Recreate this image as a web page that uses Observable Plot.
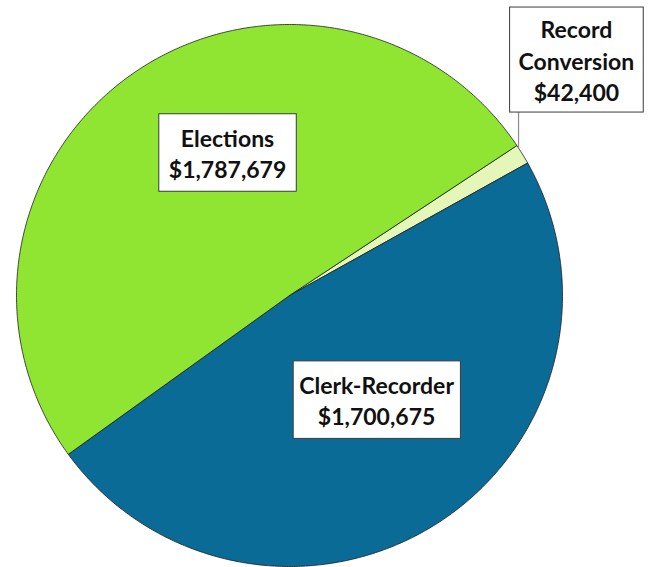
<!DOCTYPE html>
<html>
<head>
<meta charset="utf-8">
<script src="https://cdn.jsdelivr.net/npm/d3@7"></script>
<script src="https://cdn.jsdelivr.net/npm/@observablehq/plot@0.6"></script>
<style>
  html, body { margin: 0; padding: 0; background: #fff; }
  #chart svg { display: block; }
</style>
</head>
<body>
<div id="chart"></div>
<script>
// ---- data ----
const categories = ["Record Conversion", "Clerk-Recorder", "Elections"];
const labelNames = ["Record\nConversion", "Clerk-Recorder", "Elections"];
const values = [42400, 1700675, 1787679];
const colors = ["#e4f7b8", "#0b6b97", "#8fe531"];

// ---- layout (label placement in the unit-circle data space) ----
const startDeg = 56.4;
const labelPos = [[1.051, 0.871], [0.319, -0.384], [-0.227, 0.528]];
const leaderX = 0.839;

const fmt = d3.format("$,");
const data = categories.map((c, i) => ({ name: c, value: values[i] }));

const start = startDeg * Math.PI / 180;
const arcs = d3.pie().sort(null).value(d => d.value)
  .startAngle(start).endAngle(start + 2 * Math.PI)(data);

const pts = arcs.flatMap(a => {
  const name = a.data.name;
  const n = Math.max(2, Math.ceil((a.endAngle - a.startAngle) / (Math.PI / 360)));
  const p = [{ name, x: 0, y: 0 }];
  for (let i = 0; i <= n; i++) {
    const ang = a.startAngle + (a.endAngle - a.startAngle) * i / n;
    p.push({ name, x: Math.sin(ang), y: Math.cos(ang) });
  }
  p.push({ name, x: 0, y: 0 });
  return p;
});

const labels = categories.map((c, i) => ({
  name: c,
  x: labelPos[i][0],
  y: labelPos[i][1],
  text: labelNames[i] + "\n" + fmt(values[i])
}));

const leader = [{ x1: leaderX, y1: Math.sqrt(1 - leaderX * leaderX), x2: leaderX, y2: labelPos[0][1] }];

const chart = Plot.plot({
  width: 655,
  height: 567,
  margin: 0,
  x: { domain: [-289 / 273, (655 - 289) / 273], axis: null },
  y: { domain: [-(567 - 295) / 271, 295 / 271], axis: null },
  color: { domain: categories, range: colors },
  style: { background: "#fff", overflow: "visible" },
  marks: [
    Plot.line(pts, { x: "x", y: "y", z: "name", fill: "name", stroke: "#1e1e1e", strokeWidth: 0.8, curve: "linear" }),
    Plot.link(leader, { x1: "x1", y1: "y1", x2: "x2", y2: "y2", stroke: "#8c8c8c", strokeWidth: 1.2 }),
    Plot.text(labels, {
      x: "x", y: "y", text: "text",
      fontSize: 23, fontWeight: "bold", fontFamily: "Lato, 'Open Sans', sans-serif",
      lineHeight: 1.37, fill: "#111", lineAnchor: "middle"
    })
  ]
});

document.getElementById("chart").append(chart);

// white boxes behind labels, sized from the rendered text
const textGroup = chart.querySelector('g[aria-label="text"]');
if (textGroup) {
  const padX = [9, 6, 10], padTop = [8, 10, 10], padBot = [6, 8, 8];
  textGroup.querySelectorAll("text").forEach((t, i) => {
    const b = t.getBBox();
    const r = document.createElementNS("http://www.w3.org/2000/svg", "rect");
    const tr = t.getAttribute("transform");
    if (tr) r.setAttribute("transform", tr);
    r.setAttribute("x", b.x - padX[i]);
    r.setAttribute("y", b.y - padTop[i]);
    r.setAttribute("width", b.width + 2 * padX[i]);
    r.setAttribute("height", b.height + padTop[i] + padBot[i]);
    r.setAttribute("fill", "#fff");
    r.setAttribute("stroke", "#3a3a3a");
    r.setAttribute("stroke-width", "1");
    textGroup.insertBefore(r, t);
  });
}
</script>
</body>
</html>
